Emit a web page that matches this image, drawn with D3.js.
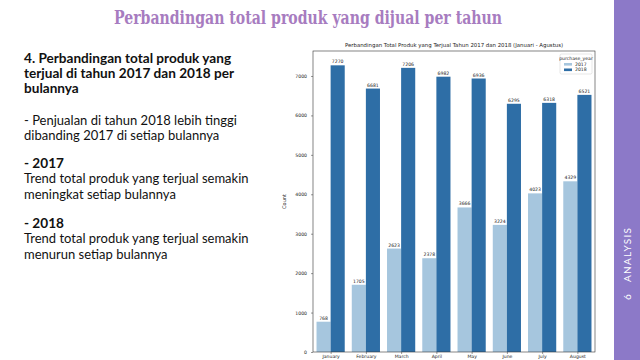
<!DOCTYPE html>
<html><head><meta charset="utf-8">
<script src="https://cdn.jsdelivr.net/npm/d3@7"></script>
<style>body{margin:0;background:#fff}svg{display:block}</style>
</head><body>
<svg id="c" width="640" height="360"></svg>
<script>
const months = ["January","February","March","April","May","June","July","August"];
const years = ["2017","2018"];
const values2017 = [768,1705,2623,2378,3666,3224,4023,4329];
const values2018 = [7270,6681,7206,6982,6936,6295,6318,6521];
const yTicks = [0,1000,2000,3000,4000,5000,6000,7000];
const colors = ["#a6c6de","#2e6ea6"];
const chartTitle = "Perbandingan Total Produk yang Terjual Tahun 2017 dan 2018 (Januari - Agustus)";
const slideTitle = "Perbandingan total produk yang dijual per tahun";
const textLines = [
  {t:"4. Perbandingan total produk yang", b:true},
  {t:"terjual di tahun 2017 dan 2018 per", b:true},
  {t:"bulannya", b:true},
  {t:"- Penjualan di tahun 2018 lebih tinggi", b:false},
  {t:"dibanding 2017 di setiap bulannya", b:false},
  {t:"- 2017", b:true},
  {t:"Trend total produk yang terjual semakin", b:false},
  {t:"meningkat setiap bulannya", b:false},
  {t:"- 2018", b:true},
  {t:"Trend total produk yang terjual semakin", b:false},
  {t:"menurun setiap bulannya", b:false}
];
const lineY = [63,78,93,125,140,168,183,199,228,243,259];

const svg = d3.select("#c");

// slide title
svg.append("text").attr("x",308).attr("y",24).attr("text-anchor","middle")
  .attr("font-family","'DejaVu Serif', serif").attr("font-weight","bold")
  .attr("font-size",18).attr("fill","#a77cc0")
  .attr("textLength",388).attr("lengthAdjust","spacingAndGlyphs").text(slideTitle);

// right sidebar
svg.append("rect").attr("x",614).attr("y",0).attr("width",26).attr("height",360).attr("fill","#8c79c8");
svg.append("text").attr("transform","translate(631,255) rotate(-90)").attr("text-anchor","middle")
  .attr("font-family","Lato, sans-serif").attr("font-size",10).attr("fill","#fff")
  .attr("textLength",54).attr("lengthAdjust","spacing").text("ANALYSIS");
svg.append("text").attr("transform","translate(631,297) rotate(-90)").attr("text-anchor","middle")
  .attr("font-family","Lato, sans-serif").attr("font-size",10).attr("fill","#fff").text("6");

// left text
textLines.forEach((d,i)=>{
  svg.append("text").attr("x",24).attr("y",lineY[i])
    .attr("font-family","Lato, sans-serif").attr("font-size",d.b?13.6:13)
    .attr("font-weight",d.b?"bold":"normal").attr("fill","#111").text(d.t);
});

// chart
const L=313,R=595,T=51,B=352;
const x0 = d3.scaleBand().domain(months).range([L,R]).paddingInner(0.2).paddingOuter(0.1);
const x1 = d3.scaleBand().domain(years).range([0,x0.bandwidth()]);
const y = d3.scaleLinear().domain([0,d3.max(values2018)*1.05]).range([B,T]);
const g = svg.append("g");

const data = months.map((m,i)=>({m, v:[values2017[i],values2018[i]]}));
const grp = g.selectAll("g.m").data(data).join("g").attr("transform",d=>`translate(${x0(d.m)},0)`);
grp.selectAll("rect").data(d=>d.v.map((v,j)=>({v,yr:years[j],j}))).join("rect")
  .attr("x",d=>x1(d.yr)).attr("width",x1.bandwidth())
  .attr("y",d=>y(d.v)).attr("height",d=>B-y(d.v)).attr("fill",d=>colors[d.j]);
grp.selectAll("text").data(d=>d.v.map((v,j)=>({v,yr:years[j]}))).join("text")
  .attr("x",d=>x1(d.yr)+x1.bandwidth()/2).attr("y",d=>y(d.v)-2)
  .attr("text-anchor","middle").attr("font-family","'DejaVu Sans', sans-serif")
  .attr("font-size",4.6).attr("fill","#222").text(d=>d.v);

// axes
const xAxis = d3.axisBottom(d3.scalePoint().domain(months).range([x0(months[0])+x0.bandwidth()/2, x0(months[7])+x0.bandwidth()/2])).tickSize(2).tickPadding(1);
const gx = svg.append("g").attr("transform",`translate(0,${B})`).call(xAxis);
gx.select(".domain").remove();
gx.selectAll("text").attr("font-size",4.6).attr("font-family","'DejaVu Sans', sans-serif").attr("fill","#222");
gx.selectAll("line").attr("stroke","#333").attr("stroke-width",0.5);

const gy = svg.append("g").attr("transform",`translate(${L},0)`)
  .call(d3.axisLeft(y).tickValues(yTicks).tickFormat(d3.format("d")).tickSize(2).tickPadding(4));
gy.select(".domain").remove();
gy.selectAll("text").attr("font-size",4.6).attr("font-family","'DejaVu Sans', sans-serif").attr("fill","#222");
gy.selectAll("line").attr("stroke","#333").attr("stroke-width",0.5);

svg.append("rect").attr("x",L).attr("y",T).attr("width",R-L).attr("height",B-T)
  .attr("fill","none").attr("stroke","#333").attr("stroke-width",0.6);

svg.append("text").attr("transform",`translate(286,${(T+B)/2}) rotate(-90)`).attr("text-anchor","middle")
  .attr("font-family","'DejaVu Sans', sans-serif").attr("font-size",5).attr("fill","#222").text("Count");
svg.append("text").attr("x",(L+R)/2).attr("y",47).attr("text-anchor","middle")
  .attr("font-family","'DejaVu Sans', sans-serif").attr("font-size",5.4).attr("fill","#222").text(chartTitle);

// legend
const lg = svg.append("g").attr("transform","translate(560,54)");
lg.append("rect").attr("width",32).attr("height",20).attr("rx",1.5).attr("fill","#fff").attr("stroke","#ccc").attr("stroke-width",0.5);
lg.append("text").attr("x",16).attr("y",6).attr("text-anchor","middle").attr("font-size",4.6)
  .attr("font-family","'DejaVu Sans', sans-serif").attr("fill","#222").text("purchase_year");
years.forEach((yr,i)=>{
  lg.append("rect").attr("x",4).attr("y",9+i*5.5).attr("width",8).attr("height",2.6).attr("fill",colors[i]);
  lg.append("text").attr("x",15).attr("y",11.6+i*5.5).attr("font-size",4.6)
    .attr("font-family","'DejaVu Sans', sans-serif").attr("fill","#222").text(yr);
});
</script>
</body></html>
